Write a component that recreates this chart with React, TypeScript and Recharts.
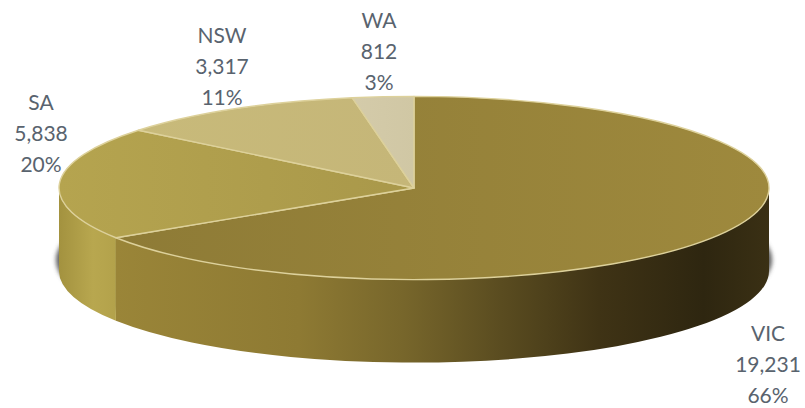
import React from 'react';
import { PieChart, Pie } from 'recharts';

const categories = ['VIC', 'SA', 'NSW', 'WA'];
const values = [19231, 5838, 3317, 812];

const chartData = categories.map((name, i) => ({ name, value: values[i] }));

// the pie lies flat: radius is squashed vertically, and the rim hangs below it
const SQUASH = 0.258;
const DEPTH = 83;
const CX = 414;
const CY = 188;
const RADIUS = 355;
const RAD = Math.PI / 180;

const labelCentres: Record<string, number> = { VIC: 768, SA: 41, NSW: 222, WA: 379 };
const labelTops: Record<string, number> = { VIC: 341, SA: 110, NSW: 43, WA: 28 };

const pt = (cx: number, cy: number, r: number, a: number) =>
  `${cx + r * Math.cos(a * RAD)} ${cy - r * SQUASH * Math.sin(a * RAD)}`;

const TopSlice = (props: any) => {
  const { cx, cy, outerRadius: r, startAngle, endAngle, name, payload } = props;
  const key = name ?? payload?.name;
  const large = Math.abs(startAngle - endAngle) > 180 ? 1 : 0;
  const rx = r;
  const ry = r * SQUASH;
  return (
    <path
      d={`M ${cx} ${cy} L ${pt(cx, cy, r, startAngle)} A ${rx} ${ry} 0 ${large} 1 ${pt(cx, cy, r, endAngle)} Z`}
      fill={`url(#top-${key})`}
      stroke="#ddd19b"
      strokeWidth={1.4}
      strokeLinejoin="round"
    />
  );
};

const WallSlice = (props: any) => {
  const { cx, cy, outerRadius: r, startAngle, endAngle, name, payload } = props;
  const key = name ?? payload?.name;
  // only the front half of the rim can be seen
  const a1 = Math.min(startAngle, 0);
  const a2 = Math.max(endAngle, -180);
  if (a1 <= a2) return <g />;
  const rx = r;
  const ry = r * SQUASH;
  return (
    <path
      d={`M ${pt(cx, cy, r, a1)} A ${rx} ${ry} 0 0 1 ${pt(cx, cy, r, a2)} L ${pt(cx, cy + DEPTH, r, a2)} A ${rx} ${ry} 0 0 0 ${pt(cx, cy + DEPTH, r, a1)} Z`}
      fill={`url(#wall-${key})`}
    />
  );
};

const ShadowSlice = (props: any) => {
  const { cx, cy, outerRadius: r, startAngle, endAngle } = props;
  const large = Math.abs(startAngle - endAngle) > 180 ? 1 : 0;
  const rx = r + 3;
  const ry = r * SQUASH;
  const sy = cy + DEPTH - 11;
  const p = (a: number) => `${cx + rx * Math.cos(a * RAD)} ${sy - ry * Math.sin(a * RAD)}`;
  return (
    <path
      d={`M ${cx} ${sy} L ${p(startAngle)} A ${rx} ${ry} 0 ${large} 1 ${p(endAngle)} Z`}
      fill="#5f5f5f"
      filter="url(#rimShadow)"
    />
  );
};

const renderLabel = (props: any) => {
  const { name, value, percent } = props;
  const x = labelCentres[name];
  const y = labelTops[name];
  const lines = [name, value.toLocaleString('en-US'), `${Math.round(percent * 100)}%`];
  return (
    <text x={x} y={y} textAnchor="middle" fill="#59636e" fontSize={21} fontFamily="Lato, sans-serif">
      {lines.map((line, i) => (
        <tspan key={line} x={x} y={y + i * 31}>
          {line}
        </tspan>
      ))}
    </text>
  );
};

const App = () => (
  <div style={{ position: 'absolute', left: 0, top: 0, width: 805, height: 408, background: '#fff' }}>
    <PieChart width={805} height={408} margin={{ top: 0, right: 0, bottom: 0, left: 0 }}>
      <defs>
        <filter id="rimShadow" x="-5%" y="-5%" width="110%" height="110%">
          <feGaussianBlur stdDeviation="2" />
        </filter>
        <linearGradient id="top-VIC" x1="0" y1="0" x2="1" y2="0">
          <stop offset="0%" stopColor="#8e7b36" />
          <stop offset="100%" stopColor="#9e893d" />
        </linearGradient>
        <linearGradient id="top-SA" x1="0" y1="0" x2="1" y2="0">
          <stop offset="0%" stopColor="#b5a44f" />
          <stop offset="100%" stopColor="#a9984a" />
        </linearGradient>
        <linearGradient id="top-NSW" x1="0" y1="0" x2="1" y2="0">
          <stop offset="0%" stopColor="#c8ba7a" />
          <stop offset="100%" stopColor="#c5b678" />
        </linearGradient>
        <linearGradient id="top-WA" x1="0" y1="0" x2="1" y2="0">
          <stop offset="0%" stopColor="#d4cbaa" />
          <stop offset="100%" stopColor="#d0c7a4" />
        </linearGradient>
        <linearGradient id="wall-VIC" x1="0" y1="0" x2="1" y2="0">
          <stop offset="0%" stopColor="#9a8538" />
          <stop offset="28%" stopColor="#8e7a33" />
          <stop offset="44%" stopColor="#77662b" />
          <stop offset="59%" stopColor="#5a4c20" />
          <stop offset="74%" stopColor="#3f3315" />
          <stop offset="90%" stopColor="#2e2610" />
          <stop offset="100%" stopColor="#3a3014" />
        </linearGradient>
        <linearGradient id="wall-SA" x1="0" y1="0" x2="1" y2="0">
          <stop offset="0%" stopColor="#a3923f" />
          <stop offset="60%" stopColor="#b8a74f" />
          <stop offset="100%" stopColor="#b3a24b" />
        </linearGradient>
      </defs>
      <Pie
        data={chartData}
        dataKey="value"
        nameKey="name"
        cx={CX}
        cy={CY}
        outerRadius={RADIUS}
        startAngle={90}
        endAngle={-270}
        stroke="none"
        shape={ShadowSlice}
        isAnimationActive={false}
      />
      <Pie
        data={chartData}
        dataKey="value"
        nameKey="name"
        cx={CX}
        cy={CY}
        outerRadius={RADIUS}
        startAngle={90}
        endAngle={-270}
        stroke="none"
        shape={WallSlice}
        isAnimationActive={false}
      />
      <Pie
        data={chartData}
        dataKey="value"
        nameKey="name"
        cx={CX}
        cy={CY}
        outerRadius={RADIUS}
        startAngle={90}
        endAngle={-270}
        shape={TopSlice}
        label={renderLabel}
        labelLine={false}
        isAnimationActive={false}
      />
    </PieChart>
  </div>
);

export default App;
